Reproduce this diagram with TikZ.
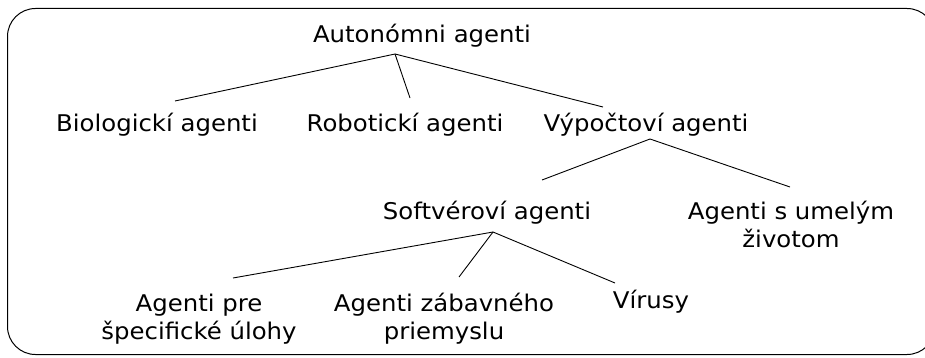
\documentclass[tikz,border=0pt]{standalone}
\usepackage{fontspec}
\setmainfont[FakeStretch=1.06]{DejaVu Sans}
\begin{document}
\begin{tikzpicture}[x=1pt,y=-1pt,
  lbl/.style={inner sep=0pt,font=\fontsize{23}{28}\selectfont,align=center},
  link/.style={line width=0.9pt}]
\useasboundingbox (0,0) rectangle (925,358);
\begin{scope}
  \clip (0,0) rectangle (925,358);
  \draw[line width=1pt,rounded corners=28pt] (7.5,8.5) rectangle (935,354.5);
\end{scope}

% labels
\node[lbl] (root) at (422,36) {Autonómni agenti};
\node[lbl] (bio)  at (157,125) {Biologickí agenti};
\node[lbl] (rob)  at (405,125) {Robotickí agenti};
\node[lbl] (vyp)  at (646,125) {Výpočtoví agenti};
\node[lbl] (soft) at (487,213) {Softvéroví agenti};
\node[lbl] (umel) at (791,224) {Agenti s umelým\\životom};
\node[lbl] (pre)  at (199,319) {Agenti pre\\špecifické úlohy};
\node[lbl] (zab)  at (444,319) {Agenti zábavného\\priemyslu};
\node[lbl] (vir)  at (651,302) {Vírusy};

% connector ends
\coordinate (root-d) at (395,54);
\coordinate (bio-u)  at (175,101);
\coordinate (rob-u)  at (410,98);
\coordinate (vyp-u)  at (603,107);
\coordinate (vyp-d)  at (650,139);
\coordinate (soft-u) at (542,180);
\coordinate (umel-u) at (790,187);
\coordinate (soft-d) at (493,232);
\coordinate (pre-u)  at (233,278);
\coordinate (zab-u)  at (459,277);
\coordinate (vir-u)  at (615,283);

\draw[link] (root-d) -- (bio-u);
\draw[link] (root-d) -- (rob-u);
\draw[link] (root-d) -- (vyp-u);
\draw[link] (vyp-d) -- (soft-u);
\draw[link] (vyp-d) -- (umel-u);
\draw[link] (soft-d) -- (pre-u);
\draw[link] (soft-d) -- (zab-u);
\draw[link] (soft-d) -- (vir-u);
\end{tikzpicture}
\end{document}
